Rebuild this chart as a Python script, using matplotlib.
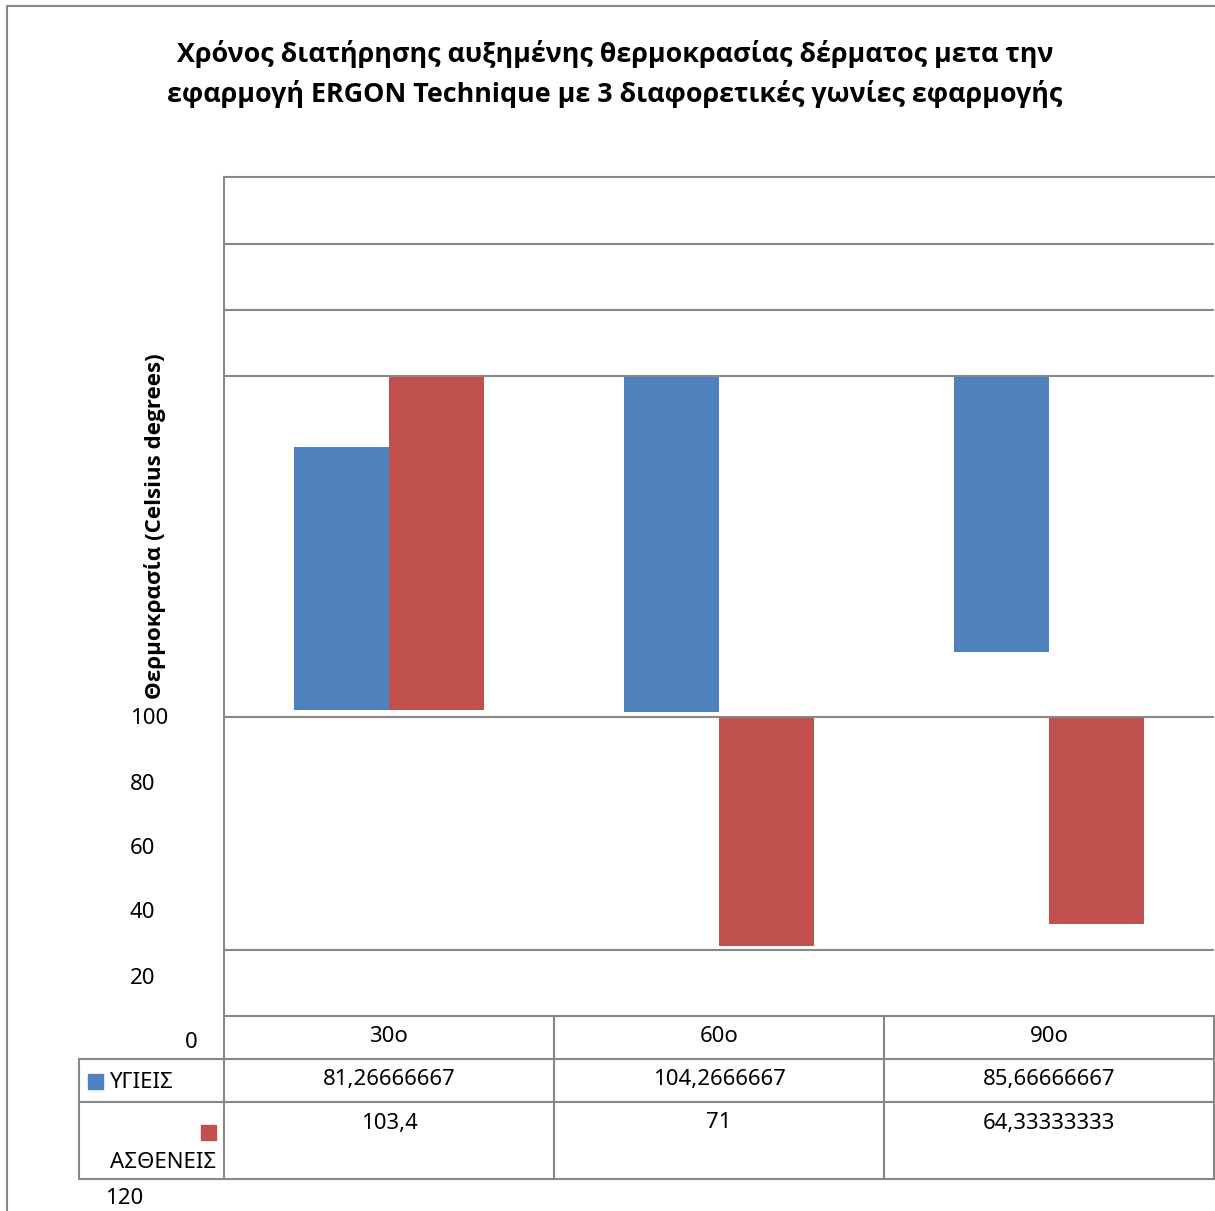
import matplotlib.pyplot as plt

# angle categories and mean values per group
categories = ['30o', '60o', '90o']
healthy = [81.26666667, 104.2666667, 85.66666667]
patients = [103.4, 71, 64.33333333]
series_names = ['ΥΓΙΕΙΣ', 'ΑΣΘΕΝΕΙΣ']
tick_labels = ['100', '80', '60', '40', '20', '0', '120']

title_lines = ['Χρόνος διατήρησης αυξημένης θερμοκρασίας δέρματος μετα την',
               'εφαρμογή ERGON Technique με 3 διαφορετικές γωνίες εφαρμογής']
ylabel = 'Θερμοκρασία (Celsius degrees)'

# where each bar starts and which way it runs (+1 up, -1 down)
healthy_base = [2.17, 105.6, 105.6]
healthy_dir = [1, -1, -1]
patients_base = [2.17, 0, 0]
patients_dir = [1, -1, -1]

BLUE = '#4F81BD'
RED = '#C0504D'
GRAY = '#878787'
FONT = ['Noto Sans', 'DejaVu Sans']
BOLD_FONT = ['Open Sans', 'DejaVu Sans']

W, H = 1215, 1211
fig = plt.figure(figsize=(W / 100, H / 100), dpi=100)
plt.rcParams['font.family'] = FONT

# page-level axes in pixel units for frame, title, labels and table
frame = fig.add_axes([0, 0, 1, 1], zorder=0)
frame.set_xlim(0, W)
frame.set_ylim(H, 0)
frame.axis('off')

# plot area
ax = fig.add_axes([224 / W, (H - 1016) / H, 990 / W, (1016 - 177) / H], zorder=1)
ax.patch.set_visible(False)
ax.set_xlim(-0.5, 2.5)
ax.set_ylim(-92.75, 167.25)
for s in ax.spines.values():
    s.set_visible(False)
ax.set_yticks([146.6, 126.0, 105.6, 0, -72.2])
ax.set_xticks([])
ax.tick_params(length=0, labelleft=False)
ax.yaxis.grid(True, color=GRAY, linewidth=1.5)
ax.set_axisbelow(False)

x = list(range(len(categories)))
bw = 0.288
ax.bar([i - bw / 2 for i in x], [d * v for d, v in zip(healthy_dir, healthy)],
       bottom=healthy_base, width=bw, color=BLUE, zorder=1)
ax.bar([i + bw / 2 for i in x], [d * v for d, v in zip(patients_dir, patients)],
       bottom=patients_base, width=bw, color=RED, zorder=1)

lw = 1.5
# outer chart border
frame.plot([7, 7, W], [H, 6, 6], color=GRAY, lw=lw)
# plot area border and data table grid
frame.plot([224, 224], [177, 1179], color=GRAY, lw=lw)
frame.plot([224, W], [177, 177], color=GRAY, lw=lw)
frame.plot([224, W], [1016, 1016], color=GRAY, lw=lw)
for yy in [1059, 1102, 1179]:
    frame.plot([79, W], [yy, yy], color=GRAY, lw=lw)
frame.plot([79, 79], [1059, 1179], color=GRAY, lw=lw)
for xx in [554, 884, 1214]:
    frame.plot([xx, xx], [1016, 1179], color=GRAY, lw=lw)

# title
for ty, line in zip([54, 94], title_lines):
    frame.text(615, ty, line, ha='center', va='center', fontsize=19.35,
               fontweight='bold', family=BOLD_FONT)

# axis title
frame.text(155, 526, ylabel, ha='center', va='center', rotation=90, fontsize=16.1,
           fontweight='bold', family=BOLD_FONT)

# value-axis labels
label_pos = [(130, 719), (130, 784), (130, 849), (130, 913), (130, 978), (185, 1042), (105, 1199)]
for lab, (lx, ly) in zip(tick_labels, label_pos):
    frame.text(lx, ly, lab, ha='left', va='center', fontsize=16)

# data table
col_centers = [389, 719, 1049]


def fmt(v):
    return '{:.10g}'.format(v).replace('.', ',')


for cx, cat, hv, pv in zip(col_centers, categories, healthy, patients):
    frame.text(cx, 1037, cat, ha='center', va='center', fontsize=16)
    frame.text(cx, 1079, fmt(hv), ha='center', va='center', fontsize=16)
    frame.text(cx, 1123, fmt(pv), ha='center', va='center', fontsize=16)

# legend keys inside the table
frame.add_patch(plt.Rectangle((88, 1074), 15, 15, color=BLUE))
frame.text(109, 1083, series_names[0], ha='left', va='center', fontsize=16)
frame.add_patch(plt.Rectangle((201, 1125), 15, 15, color=RED))
frame.text(216, 1162, series_names[1], ha='right', va='center', fontsize=16)

fig.savefig('out.png', dpi=100)
